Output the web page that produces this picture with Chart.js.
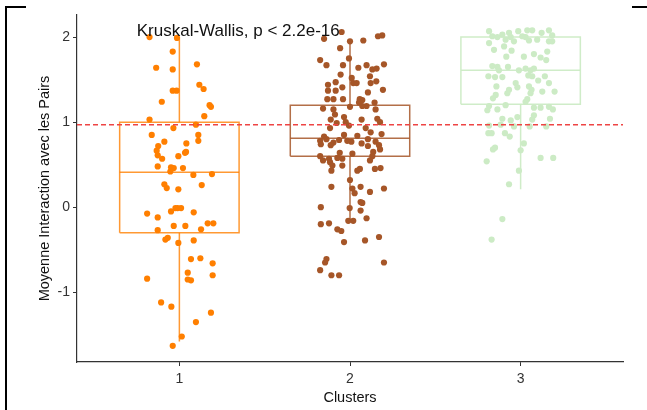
<!DOCTYPE html>
<html>
<head>
<meta charset="utf-8">
<script src="https://cdn.jsdelivr.net/npm/chart.js@4.4.1/dist/chart.umd.min.js"></script>
<style>
  body { margin: 0; background: #fff; }
  #wrap { position: relative; width: 647px; height: 410px; }
  .frame { position: absolute; background: #000; }
</style>
</head>
<body>
<div id="wrap">
  <canvas id="chart" width="647" height="410"></canvas>
  <div class="frame" style="left:5px;top:6px;width:2px;height:404px"></div>
  <div class="frame" style="left:5px;top:6px;width:21px;height:2px"></div>
  <div class="frame" style="left:632px;top:6px;width:15px;height:2px"></div>
</div>
<script>
// categories and labels
const clusters = ['1', '2', '3'];
const yTicks = [-1, 0, 1, 2];
const testLabel = 'Kruskal-Wallis, p < 2.2e-16';
const refMean = 0.97;

// box stats
const q1 = [-0.30, 0.60, 1.21];
const medians = [0.41, 0.81, 1.61];
const q3 = [1.00, 1.20, 2.00];
const whiskLow = [-1.58, -0.16, 0.21];
const whiskHigh = [2.00, 1.96, 2.00];

// jittered points: horizontal jitter (category units) and value
const c1Jit = [-0.175,-0.014,-0.039,-0.136,-0.039,0.103,0.117,0.142,-0.039,-0.016,-0.103,0.177,0.185,0.146,-0.175,0.097,-0.035,-0.162,0.111,0.111,-0.088,0.041,-0.124,-0.133,0.039,0.033,-0.127,-0.006,-0.101,-0.127,-0.049,-0.033,0.021,-0.053,0.082,0.191,-0.088,-0.074,-0.006,0.131,-0.189,-0.049,-0.023,-0.010,0.010,0.084,-0.127,-0.033,0.035,0.166,0.199,-0.127,0.127,-0.082,-0.068,-0.006,0.084,0.068,0.123,0.195,0.049,-0.189,0.049,0.068,0.195,-0.107,-0.047,0.185,0.097,0.014,-0.039];
const c1Y = [2.00,1.99,1.83,1.64,1.62,1.68,1.44,1.39,1.37,1.37,1.24,1.20,1.18,1.07,1.03,0.97,0.93,0.85,0.85,0.78,0.77,0.75,0.72,0.665,0.65,0.64,0.61,0.60,0.57,0.48,0.47,0.46,0.46,0.42,0.38,0.39,0.27,0.225,0.21,0.26,-0.075,-0.05,-0.01,-0.01,-0.01,-0.06,-0.12,-0.22,-0.22,-0.19,-0.19,-0.27,-0.26,-0.38,-0.36,-0.42,-0.39,-0.61,-0.60,-0.66,-0.77,-0.84,-0.85,-0.86,-0.80,-1.12,-1.17,-1.24,-1.35,-1.52,-1.63];

const c2Jit = [-0.152,-0.049,0.078,0.164,0.189,0.0,-0.058,-0.175,-0.006,-0.138,-0.041,0.049,0.097,0.131,0.156,0.199,-0.055,0.117,0.010,-0.084,0.019,0.039,-0.129,0.121,0.154,-0.045,-0.129,-0.084,0.105,0.193,-0.133,-0.097,-0.041,0.057,0.072,0.053,0.097,0.144,0.072,0.0,-0.158,-0.097,0.150,-0.088,-0.035,-0.113,0.068,0.160,0.176,-0.078,-0.025,-0.006,0.092,-0.117,0.121,0.185,-0.152,-0.035,0.043,0.105,-0.175,-0.138,-0.097,-0.064,-0.016,0.008,-0.171,-0.113,0.068,0.150,0.170,0.105,0.176,0.136,0.014,-0.060,-0.175,-0.074,-0.045,-0.123,0.131,-0.158,0.117,-0.117,-0.103,-0.045,-0.109,0.058,0.043,0.146,0.179,0.0,-0.109,0.014,0.062,0.027,0.117,0.199,0.062,0.072,-0.171,-0.002,0.062,0.097,-0.010,0.019,-0.171,-0.123,-0.074,-0.051,-0.035,0.088,0.170,-0.138,-0.146,0.199,-0.175,-0.109,-0.064];
const c2Y = [1.98,2.06,1.96,2.01,2.02,1.95,1.87,1.73,1.75,1.67,1.67,1.64,1.67,1.62,1.63,1.68,1.56,1.54,1.52,1.47,1.46,1.46,1.44,1.46,1.48,1.41,1.37,1.37,1.35,1.38,1.27,1.27,1.27,1.27,1.26,1.23,1.19,1.23,1.19,1.18,1.16,1.15,1.15,1.09,1.06,1.03,1.03,1.04,1.00,0.99,1.00,0.96,0.93,0.93,0.88,0.86,0.83,0.85,0.84,0.80,0.78,0.80,0.76,0.79,0.78,0.77,0.74,0.73,0.75,0.77,0.73,0.72,0.68,0.65,0.63,0.64,0.60,0.58,0.57,0.57,0.60,0.55,0.55,0.53,0.49,0.49,0.43,0.45,0.43,0.45,0.46,0.32,0.24,0.22,0.24,0.165,0.18,0.22,0.06,0.05,0.0,-0.01,-0.04,-0.13,-0.16,-0.16,-0.20,-0.19,-0.26,-0.28,-0.41,-0.39,-0.35,-0.61,-0.65,-0.65,-0.74,-0.80,-0.80];

const c3Jit = [-0.185,-0.107,-0.068,-0.014,0.039,0.068,0.123,0.166,0.185,-0.166,-0.136,-0.088,-0.058,-0.039,0.010,0.029,0.049,0.097,-0.185,0.166,0.185,-0.156,-0.097,-0.053,0.078,0.019,-0.084,0.117,0.156,0.150,-0.166,-0.136,-0.127,-0.074,-0.010,0.029,0.058,0.078,0.068,-0.189,-0.150,-0.107,0.045,0.103,-0.029,-0.019,-0.068,0.049,0.064,0.166,0.142,-0.142,-0.078,0.127,0.199,-0.146,0.058,-0.162,0.039,0.029,-0.088,-0.185,0.078,0.117,0.166,0.189,-0.195,-0.136,0.078,-0.019,-0.107,-0.058,0.172,0.068,-0.185,-0.117,-0.039,0.053,0.150,-0.189,-0.170,-0.092,-0.064,0.019,-0.150,-0.162,0.0,0.117,0.191,-0.199,-0.010,-0.068,-0.107,-0.170];
const c3Y = [2.07,2.03,2.05,2.07,2.08,2.08,2.05,2.08,2.02,2.01,2.00,1.97,2.00,1.95,2.01,2.00,1.96,1.97,1.93,1.95,1.95,1.85,1.89,1.84,1.80,1.77,1.77,1.76,1.83,1.73,1.66,1.65,1.61,1.65,1.61,1.63,1.61,1.63,1.54,1.54,1.53,1.53,1.55,1.49,1.46,1.41,1.38,1.42,1.38,1.46,1.54,1.42,1.34,1.36,1.36,1.32,1.34,1.28,1.27,1.24,1.20,1.19,1.17,1.17,1.18,1.15,1.14,1.15,1.08,1.06,1.04,1.02,1.04,1.03,0.96,0.97,0.95,0.95,0.95,0.87,0.87,0.87,0.83,0.75,0.70,0.68,0.67,0.58,0.58,0.54,0.43,0.27,-0.14,-0.38];

const pointColors = ['#FF7F00', '#A65628', '#CCEBC5'];
const boxColors = ['rgba(255,127,0,0.8)', 'rgba(166,86,40,0.85)', 'rgba(204,235,197,0.95)'];
const jits = [c1Jit, c2Jit, c3Jit];
const vals = [c1Y, c2Y, c3Y];
const halfW = 0.35;

const datasets = [];

// reference line (mean)
datasets.push({
    type: 'line', data: [{ x: 0.4, y: refMean }, { x: 3.6, y: refMean }],
    borderColor: '#EE4444', borderWidth: 1.5, borderDash: [5, 3],
    pointRadius: 0, fill: false, order: 0
});

// jittered points
clusters.forEach((c, i) => {
    datasets.push({
        type: 'scatter',
        data: vals[i].map((v, j) => ({ x: i + 1 + jits[i][j], y: v })),
        backgroundColor: pointColors[i], borderWidth: 0, pointRadius: 3.1,
        order: 1
    });
});

// boxes, medians, whiskers
clusters.forEach((c, i) => {
    const cx = i + 1;
    const line = (pts) => ({
        type: 'line', data: pts, borderColor: boxColors[i], borderWidth: 1.5,
        pointRadius: 0, fill: false, tension: 0, order: 2
    });
    datasets.push(line([
        { x: cx - halfW, y: q1[i] }, { x: cx + halfW, y: q1[i] },
        { x: cx + halfW, y: q3[i] }, { x: cx - halfW, y: q3[i] },
        { x: cx - halfW, y: q1[i] }
    ]));
    datasets.push(line([{ x: cx - halfW, y: medians[i] }, { x: cx + halfW, y: medians[i] }]));
    datasets.push(line([{ x: cx, y: q3[i] }, { x: cx, y: whiskHigh[i] }]));
    datasets.push(line([{ x: cx, y: q1[i] }, { x: cx, y: whiskLow[i] }]));
});

// test label drawn inside the plot
const labelPlugin = {
    id: 'testLabel',
    afterDatasetsDraw(chart) {
        const { ctx, scales: { x, y } } = chart;
        ctx.save();
        ctx.font = '17px "Liberation Sans", Arial, sans-serif';
        ctx.fillStyle = '#111';
        ctx.textBaseline = 'middle';
        ctx.textAlign = 'left';
        ctx.fillText(testLabel, x.getPixelForValue(0.75), y.getPixelForValue(2.07));
        ctx.restore();
    }
};

const font = { family: '"Liberation Sans", Arial, sans-serif', size: 14 };

new Chart(document.getElementById('chart'), {
    type: 'scatter',
    data: { datasets },
    plugins: [labelPlugin],
    options: {
        responsive: false,
        animation: false,
        events: [],
        layout: { padding: { top: 15, right: 24, left: 0, bottom: 0 } },
        plugins: { legend: { display: false }, tooltip: { enabled: false } },
        scales: {
            x: {
                type: 'linear', min: 0.4, max: 3.6,
                afterBuildTicks: (s) => { s.ticks = clusters.map((c, i) => ({ value: i + 1 })); },
                afterFit: (s) => { s.height = 48; },
                ticks: { callback: (v) => clusters[v - 1], color: '#333', font, padding: 5, maxRotation: 0 },
                grid: { drawOnChartArea: false, tickLength: 4, color: '#333' },
                border: { color: '#333', width: 1.2 },
                title: { display: true, text: 'Clusters', color: '#111', font: { ...font, size: 14.5 }, padding: { top: 0, bottom: 3 } }
            },
            y: {
                min: -1.82, max: 2.26,
                afterBuildTicks: (s) => { s.ticks = yTicks.map(v => ({ value: v })); },
                afterFit: (s) => { s.width = 77; },
                ticks: { color: '#333', font, padding: 3 },
                grid: { drawOnChartArea: false, tickLength: 4, color: '#333' },
                border: { color: '#333', width: 1.2 },
                title: { display: true, text: 'Moyenne Interaction avec les Pairs', color: '#111', font: { ...font, size: 14.5 }, padding: { top: 36, bottom: 0 } }
            }
        }
    }
});
</script>
</body>
</html>
